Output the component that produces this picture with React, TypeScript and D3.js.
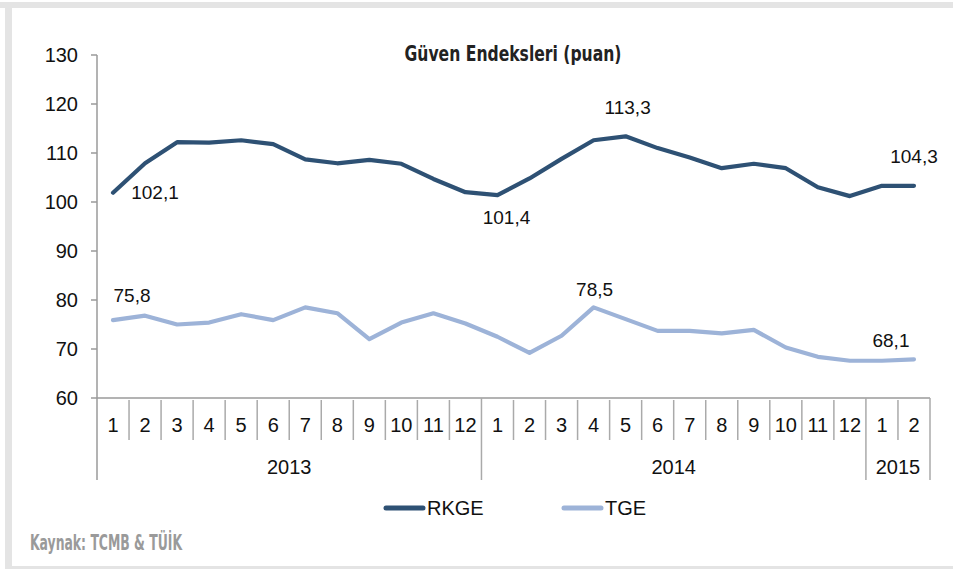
import React from "react";
import * as d3 from "d3";

const months = ["1","2","3","4","5","6","7","8","9","10","11","12","1","2","3","4","5","6","7","8","9","10","11","12","1","2"];
const years = ["2013", "2014", "2015"];
const yearLengths = [12, 12, 2];
const rkge = [101.9,107.9,112.2,112.1,112.6,111.8,108.7,107.9,108.6,107.8,104.7,102.0,101.4,104.8,108.8,112.6,113.4,111.0,109.1,106.9,107.8,106.9,103.0,101.2,103.3,103.3];
const tge = [75.9,76.8,75.0,75.4,77.1,75.9,78.5,77.3,72.0,75.4,77.3,75.2,72.5,69.2,72.7,78.5,76.1,73.7,73.7,73.2,73.9,70.3,68.4,67.6,67.6,67.9];
const yTicks = [60,70,80,90,100,110,120,130];
const seriesNames = ["RKGE", "TGE"];
const labelSeries = ["RKGE","TGE","RKGE","RKGE","RKGE","TGE","TGE"];
const labelIndex = [0,0,12,16,25,15,25];
const labelText = ["102,1","75,8","101,4","113,3","104,3","78,5","68,1"];
const titleText = "Güven Endeksleri (puan)";
const sourceText = "Kaynak: TCMB & TÜİK";

const W = 953, H = 569;
const X0 = 97, X1 = 930, YT = 55, YB = 398;
const colors: Record<string,string> = { RKGE: "#2e5174", TGE: "#9db3d8" };
const labelOffsets = [[42,0],[19,-25],[9,22],[2,-29],[0,-29],[1,-18],[-23,-19]];
const font = "'Liberation Sans', Arial, sans-serif";
const narrow = "'Liberation Sans Narrow', 'DejaVu Sans Condensed', 'Liberation Sans', sans-serif";

export default function App() {
  const idx = months.map((_, i) => i);
  const x = d3.scaleBand<number>().domain(idx).range([X0, X1]).padding(0);
  const y = d3.scaleLinear().domain([60, 130]).range([YB, YT]);
  const bw = x.bandwidth();
  const cx = (i: number) => (x(i) as number) + bw / 2;
  const line = d3.line<number>().x((_, i) => cx(i)).y((d) => y(d));
  const data: Record<string, number[]> = { RKGE: rkge, TGE: tge };

  const yearBounds: number[] = [];
  let acc = 0;
  yearBounds.push(0);
  yearLengths.forEach((l) => { acc += l; yearBounds.push(acc); });
  const boundX = (k: number) => (k >= months.length ? X1 : (x(k) as number));

  return (
    <svg width={W} height={H} style={{ position: "absolute", left: 0, top: 0, background: "#fff" }}>
      <rect x={0} y={0} width={W} height={H} fill="#fff" />
      <rect x={0} y={2} width={W} height={6} fill="#e4e4e4" />
      <rect x={5} y={2} width={7} height={H - 2} fill="#e4e4e4" />
      <rect x={5} y={566} width={W} height={3} fill="#e4e4e4" />

      <text x={513} y={61} textAnchor="middle" fontFamily={narrow} fontWeight="bold" fontSize={22} fill="#222" textLength={217} lengthAdjust="spacingAndGlyphs">{titleText}</text>

      {/* y axis */}
      <line x1={X0} x2={X0} y1={YT} y2={480} stroke="#9a9a9a" strokeWidth={1.5} />
      {yTicks.map((t) => (
        <g key={t}>
          <line x1={X0 - 6} x2={X0} y1={y(t)} y2={y(t)} stroke="#9a9a9a" strokeWidth={1.5} />
          <text x={78} y={y(t)} textAnchor="end" dominantBaseline="central" fontFamily={font} fontSize={20} fill="#111">{t}</text>
        </g>
      ))}

      {/* x axis */}
      <line x1={X0} x2={X1} y1={YB} y2={YB} stroke="#9a9a9a" strokeWidth={1.5} />
      {idx.slice(1).map((i) => (
        yearBounds.includes(i) ? null :
        <line key={"t" + i} x1={x(i) as number} x2={x(i) as number} y1={400} y2={440} stroke="#aaaaaa" strokeWidth={1.5} />
      ))}
      {yearBounds.slice(1).map((b) => (
        <line key={"yb" + b} x1={boundX(b)} x2={boundX(b)} y1={YB} y2={480} stroke="#aaaaaa" strokeWidth={1.5} />
      ))}
      {months.map((m, i) => (
        <text key={"m" + i} x={cx(i)} y={425} textAnchor="middle" dominantBaseline="central" fontFamily={font} fontSize={20} fill="#111">{m}</text>
      ))}
      {years.map((yr, k) => (
        <text key={yr} x={(boundX(yearBounds[k]) + boundX(yearBounds[k + 1])) / 2} y={467} textAnchor="middle" dominantBaseline="central" fontFamily={font} fontSize={20} fill="#111">{yr}</text>
      ))}

      {/* lines */}
      {seriesNames.map((s) => (
        <path key={s} d={line(data[s]) as string} fill="none" stroke={colors[s]} strokeWidth={4.2} strokeLinejoin="round" strokeLinecap="round" />
      ))}

      {/* labels */}
      {labelText.map((t, k) => {
        const s = labelSeries[k];
        const i = labelIndex[k];
        return (
          <text key={"l" + k} x={cx(i) + labelOffsets[k][0]} y={y(data[s][i]) + labelOffsets[k][1]} textAnchor="middle" dominantBaseline="central" fontFamily={font} fontSize={19} fill="#111">{t}</text>
        );
      })}

      {/* legend */}
      {seriesNames.map((s, k) => {
        const lx = k === 0 ? 386 : 564;
        return (
          <g key={"lg" + s}>
            <line x1={lx} x2={lx + 37} y1={508} y2={508} stroke={colors[s]} strokeWidth={5} strokeLinecap="round" />
            <text x={lx + 41} y={508} dominantBaseline="central" fontFamily={font} fontSize={20} fill="#111">{s}</text>
          </g>
        );
      })}

      <text x={30} y={550} fontFamily={narrow} fontWeight="bold" fontSize={21} fill="#9a9a9a" textLength={152} lengthAdjust="spacingAndGlyphs">{sourceText}</text>
    </svg>
  );
}
